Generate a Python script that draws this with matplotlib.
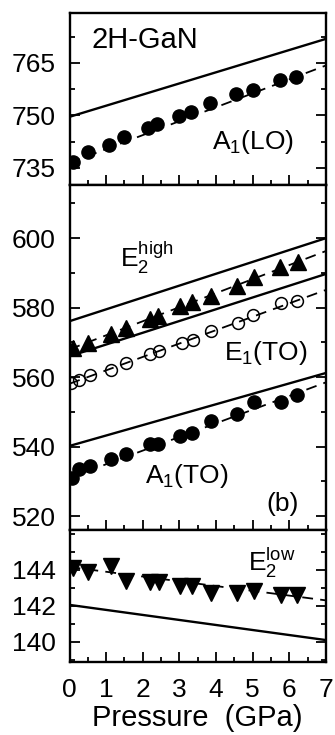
import numpy as np
import matplotlib.pyplot as plt
from matplotlib.ticker import MultipleLocator

plt.rcParams['font.family'] = ['Liberation Sans', 'DejaVu Sans']
plt.rcParams['mathtext.fontset'] = 'custom'
plt.rcParams['mathtext.rm'] = 'Liberation Sans'
plt.rcParams['mathtext.it'] = 'Liberation Sans'

# pressure range of the calculated / fitted lines (GPa)
p_ends = [0, 7]

# A1(LO)
p_a1lo = [0.10, 0.50, 1.09, 1.50, 2.14, 2.39, 3.00, 3.32, 3.83, 4.55, 5.01, 5.74, 6.19]
w_a1lo = [736.8, 739.4, 741.6, 743.7, 746.5, 747.5, 749.7, 751.1, 753.7, 756.0, 757.3, 760.1, 761.1]
fit_a1lo = [736.4, 764.3]
calc_a1lo = [749.6, 771.9]

# E2(high)
p_e2h = [0.10, 0.50, 1.13, 1.53, 2.19, 2.41, 3.01, 3.35, 3.87, 4.57, 5.03, 5.74, 6.24]
w_e2h = [568.4, 569.9, 572.3, 574.2, 576.6, 577.6, 580.5, 581.5, 583.4, 586.3, 588.7, 591.8, 593.2]
fit_e2h = [568.0, 596.3]
calc_e2h = [576.1, 600.0]

# E1(TO)
p_e1to = [0.05, 0.27, 0.55, 1.14, 1.53, 2.19, 2.45, 3.06, 3.36, 3.86, 4.60, 5.01, 5.78, 6.22]
w_e1to = [558.3, 559.2, 560.7, 562.1, 564.1, 566.7, 567.4, 569.9, 570.8, 573.4, 575.7, 577.8, 581.4, 581.9]
fit_e1to = [558.1, 585.1]
calc_e1to = [566.0, 589.7]

# A1(TO)
p_a1to = [0.07, 0.27, 0.55, 1.14, 1.53, 2.19, 2.41, 3.01, 3.35, 3.87, 4.57, 5.03, 5.78, 6.22]
w_a1to = [531.1, 533.5, 534.4, 536.3, 537.8, 540.7, 540.7, 543.1, 544.0, 547.4, 549.3, 552.9, 552.9, 554.8]
fit_a1to = [531.0, 558.5]
calc_a1to = [540.2, 561.2]

# E2(low)
p_e2l = [0.10, 0.50, 1.14, 1.53, 2.19, 2.44, 3.01, 3.35, 3.87, 4.57, 5.03, 5.78, 6.22]
w_e2l = [144.1, 143.9, 144.2, 143.4, 143.3, 143.3, 143.1, 143.1, 142.7, 142.7, 142.8, 142.6, 142.6]
fit_e2l = [144.15, 142.3]
calc_e2l = [142.05, 140.1]

# tick values
x_ticks = [0, 1, 2, 3, 4, 5, 6, 7]
yt_top = [735, 750, 765]
yt_mid = [520, 540, 560, 580, 600]
yt_bot = [140, 142, 144]

fig = plt.figure(figsize=(3.35, 7.35), dpi=100)
left, width = 0.2075, 0.7655
ax1 = fig.add_axes([left, 0.7483, width, 0.9823 - 0.7483])
ax2 = fig.add_axes([left, 0.2789, width, 0.7483 - 0.2789])
ax3 = fig.add_axes([left, 0.0997, width, 0.2789 - 0.0997])

fs = 19
dash = dict(color='k', lw=1.3, dashes=[6, 4])
solid = dict(color='k', lw=1.7)
filled_c = dict(ls='none', marker='o', ms=9.5, color='k')
filled_up = dict(ls='none', marker='^', ms=11, color='k')
filled_dn = dict(ls='none', marker='v', ms=11, color='k')
open_c = dict(ls='none', marker='o', ms=8.5, mfc='none', mec='k', mew=1.1)

# top: A1(LO)
ax1.plot(p_ends, calc_a1lo, **solid)
ax1.plot(p_ends, fit_a1lo, **dash)
ax1.plot(p_a1lo, w_a1lo, **filled_c)

# middle: E2(high), E1(TO), A1(TO)
ax2.plot(p_ends, calc_e2h, **solid)
ax2.plot(p_ends, fit_e2h, **dash)
ax2.plot(p_e2h, w_e2h, **filled_up)
ax2.plot(p_ends, calc_e1to, **solid)
ax2.plot(p_ends, fit_e1to, **dash)
ax2.plot(p_e1to, w_e1to, **open_c)
ax2.plot(p_ends, calc_a1to, **solid)
ax2.plot(p_ends, fit_a1to, **dash)
ax2.plot(p_a1to, w_a1to, **filled_c)

# bottom: E2(low)
ax3.plot(p_ends, calc_e2l, **solid)
ax3.plot(p_ends, fit_e2l, **dash)
ax3.plot(p_e2l, w_e2l, **filled_dn)

ax1.set_ylim(730.1, 779.3)
ax1.set_yticks(yt_top)
ax1.yaxis.set_minor_locator(MultipleLocator(7.5))
ax2.set_ylim(516.0, 615.3)
ax2.set_yticks(yt_mid)
ax2.yaxis.set_minor_locator(MultipleLocator(10))
ax3.set_ylim(138.9, 146.2)
ax3.set_yticks(yt_bot)
ax3.yaxis.set_minor_locator(MultipleLocator(1))

for ax in (ax1, ax2, ax3):
    ax.set_xlim(0, 7)
    ax.set_xticks(x_ticks)
    ax.xaxis.set_minor_locator(MultipleLocator(0.5))
    ax.tick_params(which='both', direction='in', top=False, right=True,
                   labelsize=fs, width=1.3)
    ax.tick_params(axis='y', pad=10)
    ax.tick_params(axis='x', pad=12)
    ax.tick_params(which='major', length=7)
    ax.tick_params(which='minor', length=3.5)
    for s in ax.spines.values():
        s.set_linewidth(1.7)
    if ax is not ax3:
        ax.tick_params(axis='x', labelbottom=False)

ax3.set_xlabel('Pressure  (GPa)', fontsize=21, labelpad=1)

ax1.text(0.6, 771.6, '2H-GaN', fontsize=21, ha='left', va='center')
ax1.text(3.9, 742.4, r'$\mathregular{A_1}$(LO)', fontsize=fs, ha='left', va='center')
ax2.text(1.37, 594.3, r'$\mathregular{E_2^{high}}$', fontsize=fs, ha='left', va='center')
ax2.text(4.23, 567.0, r'$\mathregular{E_1}$(TO)', fontsize=fs, ha='left', va='center')
ax2.text(2.05, 531.6, r'$\mathregular{A_1}$(TO)', fontsize=fs, ha='left', va='center')
ax2.text(5.38, 523.4, '(b)', fontsize=fs, ha='left', va='center')
ax3.text(4.87, 144.4, r'$\mathregular{E_2^{low}}$', fontsize=fs, ha='left', va='center')

fig.savefig('out.png', dpi=100)
